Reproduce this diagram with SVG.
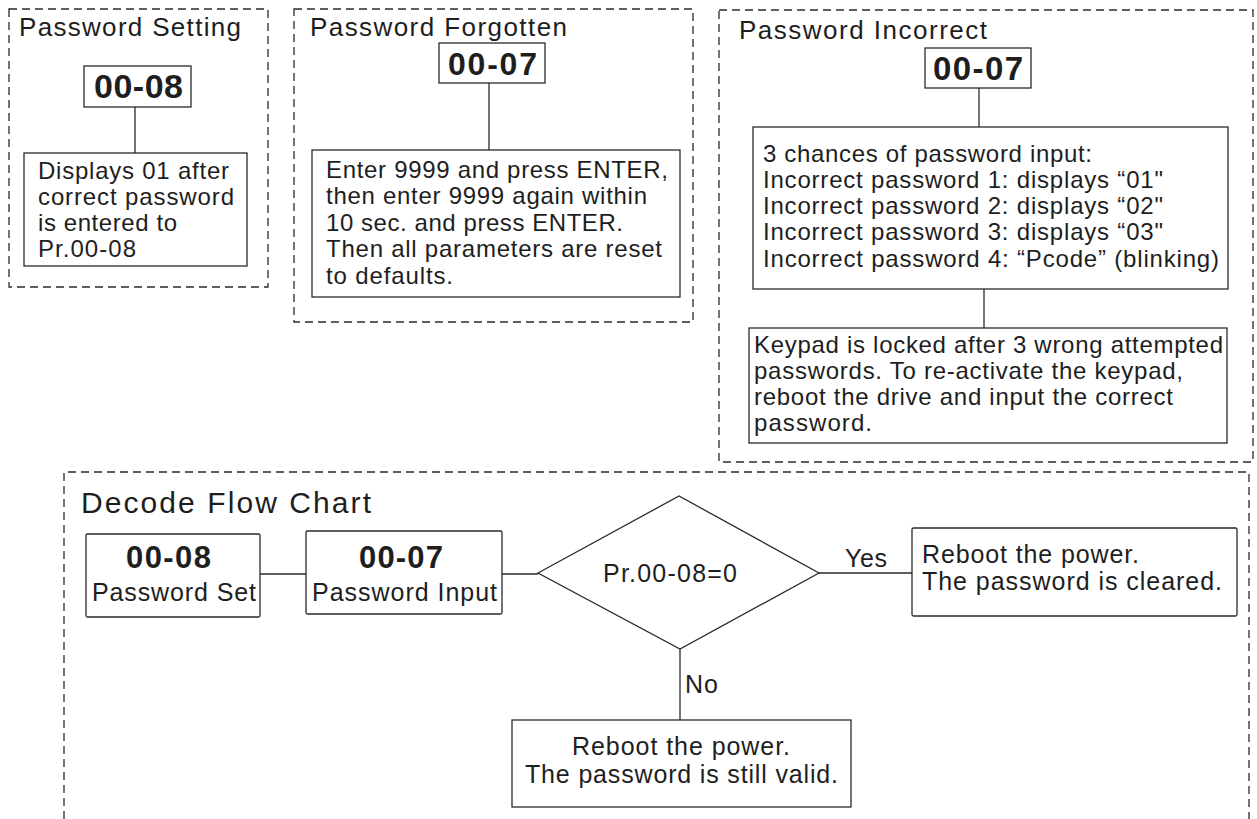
<svg xmlns="http://www.w3.org/2000/svg" width="1257" height="819" viewBox="0 0 1257 819">
<style>
.panel{fill:none;stroke:#2a2a2a;stroke-width:1.3;stroke-dasharray:8 5}
.box{fill:#fff;stroke:#2a2a2a;stroke-width:1.3}
.ln{fill:none;stroke:#2a2a2a;stroke-width:1.3}
text{font-family:"Liberation Sans",Arial,sans-serif;fill:#1e1e1e}
.t{font-size:26px}
.tb{font-size:30px}
.b{font-size:24px}
.f{font-size:25px}
.num{font-weight:bold}
</style>
<rect width="1257" height="819" fill="#fff"/>

<g id="panel-setting">
<rect class="panel" x="9" y="9" width="259" height="278"/>
<text class="t" x="19" y="36" textLength="222" lengthAdjust="spacing">Password Setting</text>
</g>
<g id="panel-forgotten">
<rect class="panel" x="294" y="9" width="399" height="313"/>
<text class="t" x="310" y="36" textLength="257" lengthAdjust="spacing">Password Forgotten</text>
</g>
<g id="panel-incorrect">
<rect class="panel" x="719" y="10" width="534" height="452"/>
<text class="t" x="739" y="39" textLength="248" lengthAdjust="spacing">Password Incorrect</text>
</g>
<g id="panel-decode">
<path class="panel" d="M64 819 V472 H1249 V819"/>
<text class="tb" x="81" y="513" textLength="290" lengthAdjust="spacing">Decode Flow Chart</text>
</g>

<g id="connectors">
<line class="ln" x1="135" y1="107" x2="135" y2="153"/>
<line class="ln" x1="489" y1="83" x2="489" y2="150"/>
<line class="ln" x1="979" y1="88" x2="979" y2="127"/>
<line class="ln" x1="984" y1="289" x2="984" y2="328"/>
<line class="ln" x1="260" y1="574" x2="306" y2="574"/>
<line class="ln" x1="502" y1="574" x2="538" y2="574"/>
<line class="ln" x1="819" y1="573" x2="912" y2="573"/>
<line class="ln" x1="680" y1="649" x2="680" y2="720"/>
<text class="f" x="845" y="567" textLength="42" lengthAdjust="spacing">Yes</text>
<text class="f" x="685" y="693" textLength="33" lengthAdjust="spacing">No</text>
</g>

<g id="n-setting-code">
<rect class="box" x="84" y="66" width="107" height="41"/>
<text class="num" font-size="34" x="94" y="98" textLength="89" lengthAdjust="spacing">00-08</text>
</g>
<g id="n-setting-desc">
<rect class="box" x="24" y="153" width="223" height="113"/>
<text class="b" x="38" y="179" textLength="191" lengthAdjust="spacing">Displays 01 after</text>
<text class="b" x="38" y="205" textLength="196" lengthAdjust="spacing">correct password</text>
<text class="b" x="38" y="231" textLength="139" lengthAdjust="spacing">is entered to</text>
<text class="b" x="38" y="257" textLength="98" lengthAdjust="spacing">Pr.00-08</text>
</g>

<g id="n-forgot-code">
<rect class="box" x="439" y="43" width="106" height="40"/>
<text class="num" font-size="32" x="448" y="75" textLength="89" lengthAdjust="spacing">00-07</text>
</g>
<g id="n-forgot-desc">
<rect class="box" x="312" y="150" width="368" height="147"/>
<text class="b" x="326" y="178" textLength="342" lengthAdjust="spacing">Enter 9999 and press ENTER,</text>
<text class="b" x="326" y="204" textLength="321" lengthAdjust="spacing">then enter 9999 again within</text>
<text class="b" x="326" y="231" textLength="297" lengthAdjust="spacing">10 sec. and press ENTER.</text>
<text class="b" x="326" y="257" textLength="336" lengthAdjust="spacing">Then all parameters are reset</text>
<text class="b" x="326" y="284" textLength="127" lengthAdjust="spacing">to defaults.</text>
</g>

<g id="n-incorrect-code">
<rect class="box" x="925" y="48" width="106" height="40"/>
<text class="num" font-size="33" x="933" y="80" textLength="90" lengthAdjust="spacing">00-07</text>
</g>
<g id="n-incorrect-chances">
<rect class="box" x="753" y="127" width="475" height="162"/>
<text class="b" x="763" y="162" textLength="329" lengthAdjust="spacing">3 chances of password input:</text>
<text class="b" x="763" y="188" textLength="400" lengthAdjust="spacing">Incorrect password 1: displays “01"</text>
<text class="b" x="763" y="214" textLength="400" lengthAdjust="spacing">Incorrect password 2: displays “02"</text>
<text class="b" x="763" y="240" textLength="400" lengthAdjust="spacing">Incorrect password 3: displays “03"</text>
<text class="b" x="763" y="267" textLength="456" lengthAdjust="spacing">Incorrect password 4: “Pcode” (blinking)</text>
</g>
<g id="n-incorrect-locked">
<rect class="box" x="749" y="328" width="478" height="115"/>
<text class="b" x="754" y="353" textLength="469" lengthAdjust="spacing">Keypad is locked after 3 wrong attempted</text>
<text class="b" x="754" y="379" textLength="429" lengthAdjust="spacing">passwords. To re-activate the keypad,</text>
<text class="b" x="754" y="405" textLength="419" lengthAdjust="spacing">reboot the drive and input the correct</text>
<text class="b" x="754" y="431" textLength="118" lengthAdjust="spacing">password.</text>
</g>

<g id="n-pw-set">
<rect class="box" x="86" y="534" width="174" height="83" rx="1.5"/>
<text class="num" font-size="31" x="126" y="568" textLength="85" lengthAdjust="spacing">00-08</text>
<text class="f" x="92" y="601" textLength="164" lengthAdjust="spacing">Password Set</text>
</g>
<g id="n-pw-input">
<rect class="box" x="306" y="531" width="196" height="83" rx="1.5"/>
<text class="num" font-size="31" x="359" y="568" textLength="84" lengthAdjust="spacing">00-07</text>
<text class="f" x="312" y="601" textLength="185" lengthAdjust="spacing">Password Input</text>
</g>
<g id="n-decision">
<polygon class="box" points="538,573 679,496 819,573 680,649"/>
<text class="f" x="603" y="582" textLength="134" lengthAdjust="spacing">Pr.00-08=0</text>
</g>
<g id="n-cleared">
<rect class="box" x="912" y="528" width="325" height="88" rx="1.5"/>
<text class="f" x="922" y="563" textLength="217" lengthAdjust="spacing">Reboot the power.</text>
<text class="f" x="922" y="590" textLength="300" lengthAdjust="spacing">The password is cleared.</text>
</g>
<g id="n-valid">
<rect class="box" x="512" y="720" width="339" height="87"/>
<text class="f" x="572" y="755" textLength="218" lengthAdjust="spacing">Reboot the power.</text>
<text class="f" x="525" y="783" textLength="313" lengthAdjust="spacing">The password is still valid.</text>
</g>
</svg>
